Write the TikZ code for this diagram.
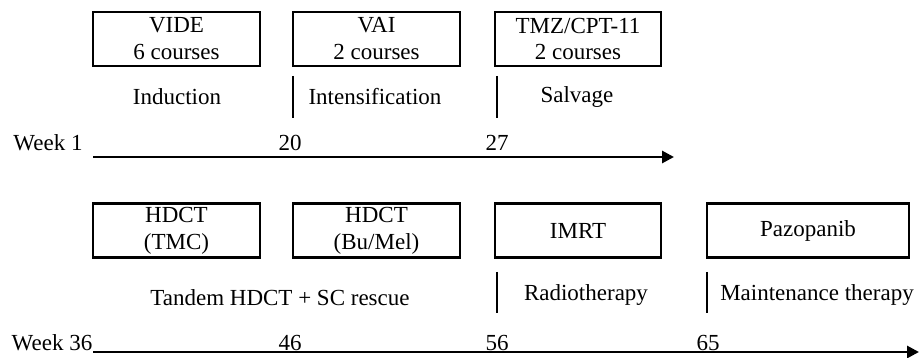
\documentclass[tikz,border=0pt]{standalone}
\usepackage{fontspec}
\setmainfont{Liberation Serif}
\usetikzlibrary{arrows.meta}
\begin{document}
\begin{tikzpicture}[x=1pt,y=-1pt,
  every node/.style={font=\fontsize{23}{27}\selectfont, inner sep=0pt},
  phase/.style={draw, line width=2.6pt, minimum height=54pt, align=center},
  sep/.style={line width=2.6pt},
  axis/.style={line width=2.8pt, -{Triangle[length=12pt,width=12pt]}}]
\useasboundingbox (0,0) rectangle (919,358);

% ---- first timeline ----
\node[phase, minimum width=167pt] (vide) at (176.5,39) {VIDE\\6 courses};
\node[phase, minimum width=167pt] (vai)  at (376.5,39) {VAI\\2 courses};
\node[phase, minimum width=166pt] (tmz)  at (578,39)   {TMZ/CPT-11\\2 courses};

\coordinate (s1a) at (293,76);  \coordinate (s1b) at (293,118);
\coordinate (s2a) at (497,76);  \coordinate (s2b) at (497,118);
\draw[sep] (s1a) -- (s1b);
\draw[sep] (s2a) -- (s2b);

\node (ind) at (177,97) {Induction};
\node (int) at (375,97) {Intensification};
\node (sal) at (577,97) {Salvage};

\node (w1)  at (48,143)  {Week 1};
\node (t20) at (290,143) {20};
\node (t27) at (497,143) {27};

\coordinate (a1s) at (93,157);  \coordinate (a1e) at (674,157);
\draw[axis] (a1s) -- (a1e);

% ---- second timeline ----
\node[phase, minimum width=167pt] (tmc)  at (176.5,230.5) {HDCT\\(TMC)};
\node[phase, minimum width=167pt] (bum)  at (376.5,230.5) {HDCT\\(Bu/Mel)};
\node[phase, minimum width=166pt] (imrt) at (578,230.5)   {IMRT};
\node[phase, minimum width=202pt] (paz)  at (808,230.5)   {Pazopanib};

\coordinate (s3a) at (497,272); \coordinate (s3b) at (497,313);
\coordinate (s4a) at (707,272); \coordinate (s4b) at (707,313);
\draw[sep] (s3a) -- (s3b);
\draw[sep] (s4a) -- (s4b);

\node (tan) at (280,298) {Tandem HDCT + SC rescue};
\node (rad) at (586,295) {Radiotherapy};
\node (mai) at (817,295) {Maintenance therapy};

\node (w36) at (52,343)  {Week 36};
\node (t46) at (290,343) {46};
\node (t56) at (497,343) {56};
\node (t65) at (708,343) {65};

\coordinate (a2s) at (93,352);  \coordinate (a2e) at (919,352);
\draw[axis] (a2s) -- (a2e);
\end{tikzpicture}
\end{document}
